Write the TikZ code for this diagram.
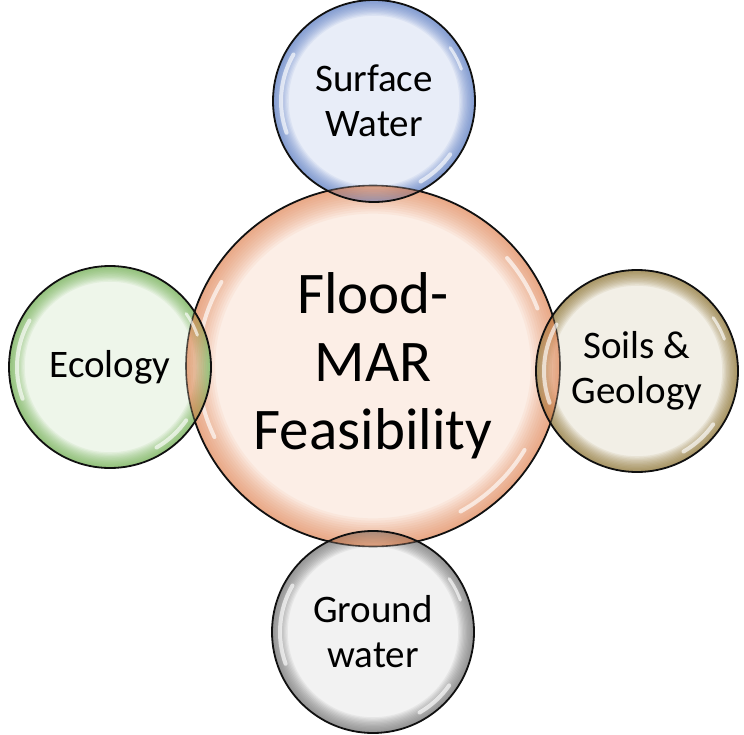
\documentclass[tikz,border=0pt]{standalone}
\usepackage{fontspec}
\setmainfont{Carlito}
\usetikzlibrary{shapes.geometric}
\definecolor{oIn}{HTML}{FCEEE6}\definecolor{oOut}{HTML}{E07B45}
\definecolor{bIn}{HTML}{E8EDF8}\definecolor{bOut}{HTML}{5B7DC4}
\definecolor{gIn}{HTML}{EEF6EA}\definecolor{gOut}{HTML}{6FAF4F}
\definecolor{yIn}{HTML}{F2EFE6}\definecolor{yOut}{HTML}{8C7230}
\definecolor{kIn}{HTML}{F2F2F2}\definecolor{kOut}{HTML}{6E6E6E}
\definecolor{rim}{HTML}{101010}
% #1 x, #2 y, #3 rx, #4 ry, #5 inner colour, #6 outer colour, #7 opacity step
\newcommand\mybub[7]{%
  \fill[#5] (#1,#2) ellipse[x radius=#3pt, y radius=#4pt];
  \foreach \k in {1,...,12}{%
    \pgfmathsetmacro\rrx{#3*(1-0.013*\k)}%
    \pgfmathsetmacro\rry{#4*(1-0.013*\k)}%
    \fill[#6, fill opacity=#7, even odd rule] (#1,#2) ellipse[x radius=#3pt, y radius=#4pt]
         (#1,#2) ellipse[x radius=\rrx pt, y radius=\rry pt];
  }%
}
% lens: central orange seen through an outer bubble at (#1,#2)
\newcommand\mylens[2]{%
  \begin{scope}
    \clip (#1,#2) circle[radius=101pt];
    \foreach \k in {1,...,10}{%
      \pgfmathsetmacro\rrx{187*(1-0.012*\k)}%
      \pgfmathsetmacro\rry{180.5*(1-0.012*\k)}%
      \fill[oOut, fill opacity=0.09, even odd rule] (373,366) ellipse[x radius=187pt, y radius=180.5pt]
         (373,366) ellipse[x radius=\rrx pt, y radius=\rry pt];
    }%
    \draw[rim, line width=1.6pt, opacity=0.7] (373,366) ellipse[x radius=187pt, y radius=180.5pt];
  \end{scope}%
}
\tikzset{
  bubble/.style={circle, draw=rim, line width=1.8pt, minimum size=202pt, inner sep=0pt,
     align=center, font=\fontsize{39}{45}\selectfont},
  hub/.style={ellipse, draw=rim, line width=1.8pt, minimum width=374pt, minimum height=361pt,
     inner sep=0pt, align=center, font=\fontsize{59}{68}\selectfont},
  gloss/.style={draw=white, line width=4pt, line cap=round, opacity=0.65}
}
\begin{document}
\begin{tikzpicture}[x=1pt,y=-1pt]
\useasboundingbox (0,0) rectangle (744,735);
% central
\mybub{373}{366}{187}{180.5}{oIn}{oOut}{0.065}
\node[hub] (c) at (373,366) {Flood-\\MAR\\Feasibility};
\draw[gloss] ([shift={(150:175pt and 168pt)}]c.center) arc[start angle=150, end angle=205, x radius=175pt, y radius=168pt];
\draw[gloss] ([shift={(300:175pt and 168pt)}]c.center) arc[start angle=300, end angle=330, x radius=175pt, y radius=168pt];
\draw[gloss] ([shift={(20:175pt and 168pt)}]c.center) arc[start angle=20, end angle=40, x radius=175pt, y radius=168pt];

% surface water
\mybub{374}{101}{101}{101}{bIn}{bOut}{0.09}
\mylens{374}{101}
\node[bubble] (sw) at (374,101) {Surface\\Water};
% ecology
\mybub{110}{367}{101}{101}{gIn}{gOut}{0.09}
\mylens{110}{367}
\node[bubble] (eco) at (110,367) {Ecology};
% soils
\mybub{637}{371}{101}{101}{yIn}{yOut}{0.09}
\mylens{637}{371}
\node[bubble] (soil) at (637,371) {Soils \&\\Geology};
% groundwater
\mybub{373}{632}{101}{101}{kIn}{kOut}{0.09}
\mylens{373}{632}
\node[bubble] (gw) at (373,632) {Ground\\water};

\foreach \n in {sw,eco,soil,gw}{
  \draw[gloss] ([shift={(150:93pt)}]\n.center) arc[start angle=150, end angle=200, radius=93pt];
  \draw[gloss] ([shift={(300:93pt)}]\n.center) arc[start angle=300, end angle=325, radius=93pt];
  \draw[gloss, line width=3pt] ([shift={(20:93pt)}]\n.center) arc[start angle=20, end angle=35, radius=93pt];
}
\end{tikzpicture}
\end{document}
